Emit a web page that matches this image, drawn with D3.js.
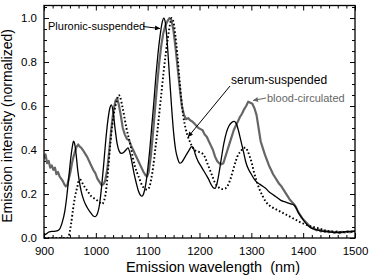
<!DOCTYPE html>
<html><head><meta charset="utf-8">
<script src="https://cdn.jsdelivr.net/npm/d3@7"></script>
<style>body{margin:0;background:#fff;} svg{display:block;font-family:"Liberation Sans",Arial,sans-serif;} text{white-space:pre;}</style>
</head><body><svg id="c" width="371" height="279"></svg>
<script>
const pluronicX = [900,905,910,915,920,925,930,935,940,944,948,952,955,957,959,962,965,968,972,977,983,990,995,999,1003,1007,1011,1015,1019,1023,1027,1030,1033,1037,1041,1045,1049,1054,1058,1062,1066,1070,1074,1078,1082,1086,1089,1092,1096,1100,1104,1108,1112,1116,1120,1124,1128,1131,1134,1138,1142,1146,1150,1154,1158,1162,1166,1170,1175,1180,1185,1188,1192,1197,1202,1207,1212,1217,1222,1226,1230,1234,1238,1242,1247,1252,1257,1262,1267,1271,1275,1280,1285,1290,1295,1300,1305,1310,1316,1322,1328,1334,1340,1346,1352,1358,1364,1370,1376,1382,1387,1392,1398,1404,1410,1416,1422,1430,1440,1450,1460,1470,1480,1490,1500];
const pluronicY = [0.012,0.02,0.028,0.03,0.03,0.032,0.04,0.07,0.12,0.19,0.28,0.37,0.42,0.44,0.43,0.38,0.31,0.26,0.21,0.17,0.14,0.115,0.10,0.097,0.11,0.15,0.23,0.33,0.44,0.53,0.59,0.605,0.58,0.50,0.43,0.395,0.385,0.39,0.40,0.41,0.385,0.34,0.29,0.25,0.215,0.195,0.19,0.20,0.24,0.31,0.40,0.51,0.62,0.74,0.84,0.92,0.98,1.0,0.98,0.88,0.74,0.60,0.48,0.40,0.36,0.34,0.345,0.36,0.38,0.40,0.415,0.41,0.38,0.35,0.33,0.31,0.29,0.27,0.245,0.23,0.226,0.25,0.30,0.36,0.43,0.48,0.51,0.525,0.53,0.52,0.49,0.44,0.39,0.34,0.31,0.29,0.27,0.255,0.245,0.235,0.225,0.21,0.20,0.19,0.18,0.17,0.165,0.16,0.155,0.15,0.135,0.11,0.09,0.07,0.055,0.045,0.04,0.035,0.03,0.028,0.025,0.025,0.028,0.03,0.03];

const serumX = [900,945,948,952,956,960,964,967,970,974,979,985,991,997,1003,1008,1012,1016,1020,1024,1028,1032,1036,1040,1044,1047,1051,1055,1059,1063,1067,1071,1075,1079,1084,1089,1094,1099,1103,1107,1111,1115,1119,1123,1127,1131,1135,1139,1143,1146,1149,1153,1157,1161,1165,1169,1173,1177,1181,1185,1190,1195,1200,1205,1210,1215,1220,1225,1230,1235,1240,1245,1250,1255,1260,1265,1270,1275,1280,1285,1289,1293,1297,1301,1305,1310,1316,1322,1328,1334,1340,1348,1356,1364,1372,1380,1388,1396,1404,1412,1420,1430,1440,1450,1460,1470,1480,1490,1500];
const serumY = [0,0,0.01,0.06,0.13,0.19,0.23,0.26,0.265,0.25,0.23,0.21,0.19,0.18,0.17,0.16,0.155,0.17,0.22,0.32,0.43,0.52,0.58,0.62,0.65,0.64,0.60,0.55,0.50,0.46,0.42,0.37,0.33,0.30,0.27,0.24,0.225,0.22,0.23,0.27,0.33,0.41,0.49,0.58,0.67,0.76,0.84,0.91,0.97,1.0,0.99,0.93,0.84,0.73,0.63,0.55,0.50,0.465,0.44,0.42,0.40,0.395,0.39,0.385,0.37,0.34,0.31,0.28,0.25,0.235,0.225,0.222,0.225,0.24,0.27,0.31,0.35,0.38,0.395,0.41,0.41,0.395,0.37,0.34,0.30,0.26,0.22,0.19,0.165,0.15,0.14,0.13,0.12,0.11,0.10,0.09,0.08,0.07,0.062,0.055,0.05,0.044,0.036,0.031,0.028,0.027,0.028,0.028,0.03];

const bloodX = [900,903,906,909,912,915,918,921,924,927,930,933,936,939,942,945,948,951,954,957,960,963,966,969,972,975,979,983,987,991,995,999,1003,1007,1011,1015,1018,1022,1026,1030,1034,1038,1041,1044,1048,1052,1056,1060,1064,1068,1072,1076,1080,1084,1088,1092,1096,1099,1102,1106,1110,1114,1118,1122,1126,1130,1134,1138,1142,1146,1150,1154,1158,1162,1166,1170,1174,1178,1182,1186,1190,1194,1198,1202,1206,1210,1214,1218,1222,1226,1230,1234,1238,1242,1246,1250,1254,1258,1262,1266,1270,1274,1278,1282,1286,1290,1294,1298,1302,1306,1310,1314,1318,1322,1326,1330,1334,1338,1342,1346,1350,1354,1358,1362,1366,1370,1374,1378,1382,1386,1390,1394,1398,1402,1406,1410,1414,1418,1422,1426,1430,1434,1438,1442,1446,1450,1455,1460,1465,1470,1475,1480,1485,1490,1495,1500];
const bloodY = [0.36,0.38,0.34,0.35,0.32,0.33,0.31,0.32,0.29,0.30,0.28,0.27,0.26,0.245,0.235,0.24,0.27,0.30,0.34,0.37,0.395,0.415,0.425,0.415,0.41,0.40,0.385,0.37,0.35,0.33,0.31,0.295,0.27,0.255,0.24,0.245,0.26,0.31,0.40,0.50,0.58,0.625,0.635,0.61,0.56,0.50,0.47,0.45,0.445,0.42,0.40,0.38,0.36,0.34,0.32,0.30,0.285,0.28,0.30,0.37,0.47,0.58,0.69,0.79,0.87,0.93,0.965,0.985,1.0,0.99,0.94,0.86,0.77,0.68,0.60,0.56,0.54,0.545,0.535,0.53,0.52,0.51,0.50,0.495,0.49,0.47,0.46,0.44,0.42,0.40,0.37,0.35,0.34,0.335,0.34,0.37,0.40,0.43,0.46,0.49,0.51,0.53,0.55,0.565,0.585,0.60,0.62,0.615,0.61,0.59,0.56,0.50,0.44,0.41,0.38,0.355,0.33,0.31,0.29,0.275,0.26,0.245,0.235,0.22,0.205,0.19,0.175,0.165,0.155,0.14,0.12,0.105,0.09,0.08,0.07,0.06,0.05,0.045,0.04,0.035,0.038,0.03,0.034,0.028,0.032,0.026,0.03,0.024,0.03,0.022,0.028,0.025,0.03,0.026,0.03,0.032];

const xTickValues = [900,1000,1100,1200,1300,1400,1500];
const yTickValues = [0.0,0.2,0.4,0.6,0.8,1.0];
const xLabel = "Emission wavelength  (nm)";
const yLabel = "Emission intensity (normalized)";

const L = 44, R = 355, T = 5.5, B = 238;
const svg = d3.select("#c");
const x = d3.scaleLinear().domain([900,1500]).range([L,R]);
const y = d3.scaleLinear().domain([0,1.057]).range([B,T]);

const defs = svg.append("defs");
function marker(id, color){
  defs.append("marker").attr("id",id).attr("viewBox","0 0 10 10").attr("refX",10).attr("refY",5)
    .attr("markerWidth",6).attr("markerHeight",5).attr("orient","auto").attr("markerUnits","userSpaceOnUse")
    .append("path").attr("d","M0,0L10,5L0,10z").attr("fill",color);
}
marker("ab","#000"); marker("ag","#666");

const minorX = d3.range(0,37).map(i=>900+i*100/6).filter(v=>Math.abs((v-900)%100)>1 && Math.abs((v-900)%100)<99);
const minorY = d3.range(0,22).map(i=>i*0.05).filter(v=>Math.round(v*100)%20!==0);

function mk(sel, axis){ sel.call(axis); sel.select(".domain").remove(); sel.selectAll("line").attr("stroke","#000").attr("stroke-width",1); }
const fmtX = d3.format("d"), fmtY = d3.format(".1f");
const fs = "11.5px";
mk(svg.append("g").attr("transform",`translate(0,${B})`), d3.axisBottom(x).tickValues(xTickValues).tickSize(-5).tickPadding(9).tickFormat(fmtX));
mk(svg.append("g").attr("transform",`translate(0,${B})`), d3.axisBottom(x).tickValues(minorX).tickSize(-3).tickFormat(""));
mk(svg.append("g").attr("transform",`translate(0,${T})`), d3.axisTop(x).tickValues(xTickValues).tickSize(-5).tickFormat(""));
mk(svg.append("g").attr("transform",`translate(0,${T})`), d3.axisTop(x).tickValues(minorX).tickSize(-3).tickFormat(""));
mk(svg.append("g").attr("transform",`translate(${L},0)`), d3.axisLeft(y).tickValues(yTickValues).tickSize(-5).tickPadding(7).tickFormat(fmtY));
mk(svg.append("g").attr("transform",`translate(${L},0)`), d3.axisLeft(y).tickValues(minorY).tickSize(-3).tickFormat(""));
mk(svg.append("g").attr("transform",`translate(${R},0)`), d3.axisRight(y).tickValues(yTickValues).tickSize(-5).tickFormat(""));
mk(svg.append("g").attr("transform",`translate(${R},0)`), d3.axisRight(y).tickValues(minorY).tickSize(-3).tickFormat(""));
svg.selectAll("g text").attr("font-size",fs).attr("font-family","Liberation Sans, Arial, sans-serif").attr("fill","#000");

defs.append("clipPath").attr("id","pc").append("rect").attr("x",L).attr("y",T).attr("width",R-L).attr("height",B-T);
const g = svg.append("g").attr("clip-path","url(#pc)");
const line = d3.line().x(d=>x(d[0])).y(d=>y(d[1]));
g.append("path").datum(d3.zip(bloodX,bloodY)).attr("d",line).attr("fill","none").attr("stroke","#666").attr("stroke-width",2.2).attr("stroke-linejoin","round");
g.append("path").datum(d3.zip(serumX,serumY)).attr("d",line.curve(d3.curveMonotoneX)).attr("fill","none").attr("stroke","#000").attr("stroke-width",1.9).attr("stroke-dasharray","1.6,2.2");
g.append("path").datum(d3.zip(pluronicX,pluronicY)).attr("d",line.curve(d3.curveMonotoneX)).attr("fill","none").attr("stroke","#000").attr("stroke-width",1.3);

svg.append("rect").attr("x",L).attr("y",T).attr("width",R-L).attr("height",B-T).attr("fill","none").attr("stroke","#000").attr("stroke-width",1.3);

svg.append("text").attr("x",48).attr("y",30).attr("font-size","11px").text("Pluronic-suspended");
svg.append("line").attr("x1",143).attr("y1",26.5).attr("x2",160).attr("y2",28.5).attr("stroke","#000").attr("stroke-width",1).attr("marker-end","url(#ab)");
svg.append("text").attr("x",231).attr("y",84).attr("font-size","12px").text("serum-suspended");
svg.append("line").attr("x1",230).attr("y1",86).attr("x2",188).attr("y2",137).attr("stroke","#000").attr("stroke-width",1).attr("marker-end","url(#ab)");
svg.append("text").attr("x",267).attr("y",101.5).attr("font-size","11px").attr("fill","#666").text("blood-circulated");
svg.append("line").attr("x1",266).attr("y1",98).attr("x2",253).attr("y2",100.5).attr("stroke","#666").attr("stroke-width",1.2).attr("marker-end","url(#ag)");

svg.append("text").attr("x",213).attr("y",272).attr("text-anchor","middle").attr("font-size","14.5px").text(xLabel);
svg.append("text").attr("transform",`translate(12,126) rotate(-90)`).attr("text-anchor","middle").attr("font-size","14px").text(yLabel);
</script></body></html>
